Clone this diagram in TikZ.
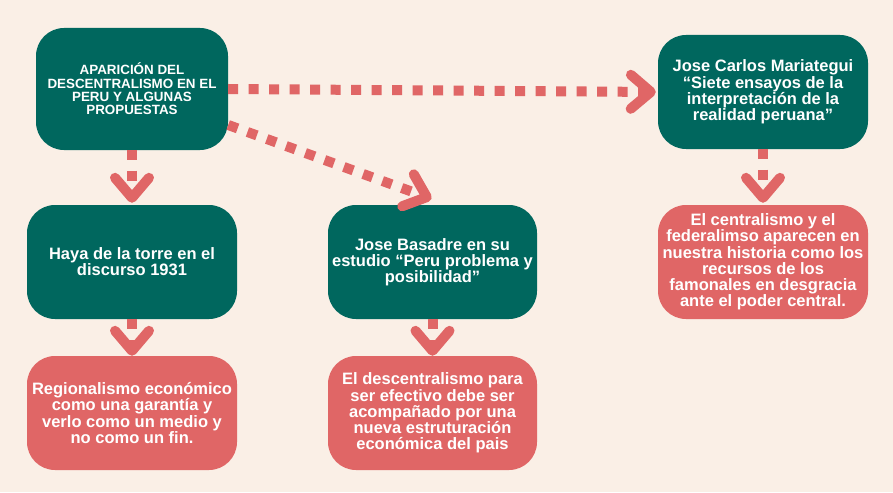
\documentclass[tikz,border=0pt]{standalone}
\usepackage{fontspec}
\setmainfont{Liberation Sans}
\usetikzlibrary{arrows.meta,calc}
\definecolor{bgcol}{RGB}{250,239,230}
\definecolor{dkgreen}{RGB}{0,103,94}
\definecolor{rosered}{RGB}{224,102,102}
\begin{document}
\begin{tikzpicture}[x=1pt,y=-1pt,
  box/.style={rounded corners=28pt, text=white, font=\bfseries\fontsize{16.5}{16.2}\selectfont,
    align=center, inner sep=0pt, minimum width=210pt, minimum height=114pt},
  gbox/.style={box, fill=dkgreen},
  rbox/.style={box, fill=rosered},
  conn/.style={draw=rosered, line width=10pt, dash pattern=on 10pt off 10.5pt,
    -{Straight Barb[length=20pt,width=34pt,round]}}]
\fill[bgcol] (0,0) rectangle (893,492);
\useasboundingbox (0,0) rectangle (893,492);
\node[gbox, minimum width=192pt, minimum height=122pt, font=\bfseries\fontsize{13.4}{13.3}\selectfont] (A) at (132,89)
  {APARICIÓN DEL\\DESCENTRALISMO EN EL\\PERU Y ALGUNAS\\PROPUESTAS};
\node[gbox] (B) at (132,262) {Haya de la torre en el\\discurso 1931};
\node[rbox] (C) at (132,413) {Regionalismo económico\\como una garantía y\\verlo como un medio y\\no como un fin.};
\node[gbox, minimum width=209pt] (D) at (432.5,262) {Jose Basadre en su\\estudio “Peru problema y\\posibilidad”};
\node[rbox, minimum width=209pt] (E) at (432.5,413) {El descentralismo para\\ser efectivo debe ser\\acompañado por una\\nueva estruturación\\económica del pais};
\node[gbox] (F) at (763,92) {Jose Carlos Mariategui\\“Siete ensayos de la\\interpretación de la\\realidad peruana”};
\node[rbox] (G) at (763,262) {El centralismo y el\\federalimso aparecen en\\nuestra historia como los\\recursos de los\\famonales en desgracia\\ante el poder central.};
\coordinate (a1) at ($(A.east)+(0,36)$);
\coordinate (d1) at ($(D.north)+(-1,-6)$);
\draw[conn, shorten >=2pt] (A.south) -- (B.north);
\draw[conn] (B.south) -- (C.north);
\draw[conn] (D.south) -- (E.north);
\draw[conn, shorten >=2pt] (F.south) -- (G.north);
\draw[conn, shorten >=2pt] (A.east) -- (F.west);
\draw[conn] (a1) -- (d1);
\end{tikzpicture}
\end{document}
